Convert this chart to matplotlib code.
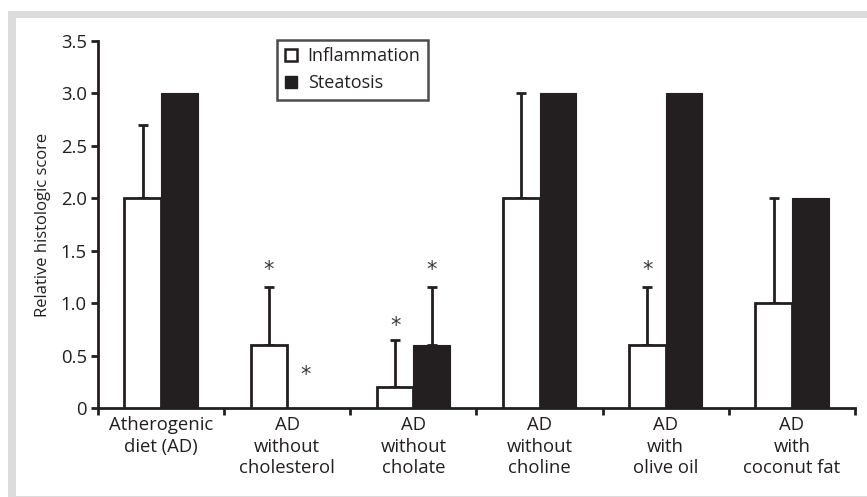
import matplotlib
matplotlib.use('Agg')
import matplotlib.pyplot as plt
from matplotlib.lines import Line2D
from matplotlib.patches import Rectangle
import numpy as np

plt.rcParams['font.family'] = ['Open Sans', 'DejaVu Sans']

groups = ['Atherogenic\ndiet (AD)', 'AD\nwithout\ncholesterol', 'AD\nwithout\ncholate',
          'AD\nwithout\ncholine', 'AD\nwith\nolive oil', 'AD\nwith\ncoconut fat']
inflammation = [2.0, 0.6, 0.2, 2.0, 0.6, 1.0]
inflammation_err = [0.7, 0.55, 0.45, 1.0, 0.55, 1.0]
steatosis = [3.0, 0.0, 0.6, 3.0, 3.0, 2.0]
steatosis_err = [0, 0, 0.55, 0, 0, 0]
# asterisk heights (None = no mark)
inflammation_star = [None, 1.32, 0.78, None, 1.32, None]
steatosis_star = [None, 0.31, 1.32, None, None, None]

dark = '#231f20'
x = np.arange(len(groups))
w = 0.29

fig = plt.figure(figsize=(8.67, 4.97), dpi=100)
# grey frame like the journal figure
fig.patches.append(Rectangle((8/867, 0), 1, (497-11)/497, transform=fig.transFigure,
                             facecolor='#dcdcdc', edgecolor='none', zorder=-2))
fig.patches.append(Rectangle((16/867, 1/497), 1, (497-19)/497, transform=fig.transFigure,
                             facecolor='white', edgecolor='none', zorder=-1))

ax = fig.add_axes([98/867, 1-408/497, 757/867, 367/497])
ax.patch.set_alpha(0)

ax.bar(x - w/2, inflammation, w, color='white', edgecolor=dark, linewidth=2, zorder=3)
ax.bar(x + w/2, steatosis, w, color=dark, edgecolor=dark, linewidth=0.8, zorder=3)

ax.errorbar(x - w/2, inflammation, yerr=[np.zeros(6), inflammation_err], fmt='none',
            ecolor=dark, elinewidth=2, capsize=3.5, capthick=2, zorder=2)
se = np.array(steatosis_err)
m = se > 0
ax.errorbar((x + w/2)[m], np.array(steatosis)[m], yerr=[np.zeros(m.sum()), se[m]], fmt='none',
            ecolor=dark, elinewidth=2, capsize=3.5, capthick=2, zorder=2)

for i in range(len(groups)):
    if inflammation_star[i] is not None:
        ax.text(x[i] - w/2, inflammation_star[i], '*', ha='center', va='center', fontsize=15,
                color='#3a3a3a', family='DejaVu Sans')
    if steatosis_star[i] is not None:
        ax.text(x[i] + w/2, steatosis_star[i], '*', ha='center', va='center', fontsize=15,
                color='#3a3a3a', family='DejaVu Sans')

ax.set_xlim(-0.5, len(groups) - 0.5)
ax.set_ylim(0, 3.5)
ax.set_yticks(np.arange(0, 3.51, 0.5))
ax.set_yticklabels(['0', '0.5', '1.0', '1.5', '2.0', '2.5', '3.0', '3.5'])
ax.set_xticks(np.arange(-0.5, len(groups), 1.0))
ax.set_xticklabels([])
ax.set_xticks(x, minor=True)
ax.set_xticklabels(groups, minor=True, fontsize=13.3, color=dark, linespacing=1.25)
ax.tick_params(axis='x', which='minor', length=0, pad=6)
ax.tick_params(axis='x', which='major', direction='out', length=5, width=2, color=dark)
ax.tick_params(axis='y', direction='out', length=5, width=2, color=dark, labelsize=13.3,
               labelcolor=dark, pad=3)

for s in ['top', 'right']:
    ax.spines[s].set_visible(False)
for s in ['left', 'bottom']:
    ax.spines[s].set_linewidth(2)
    ax.spines[s].set_color(dark)

ax.set_ylabel('Relative histologic score', fontsize=12, color=dark, labelpad=7)

handles = [Line2D([0], [0], marker='s', color='none', markerfacecolor='white', markeredgecolor=dark,
                  markeredgewidth=1.8, markersize=8),
           Line2D([0], [0], marker='s', color='none', markerfacecolor=dark, markeredgecolor=dark,
                  markersize=8)]
leg = ax.legend(handles, ['Inflammation', 'Steatosis'], loc='upper left',
                bbox_to_anchor=((268-98)/757, 1.027), fontsize=13, frameon=True, fancybox=False,
                handlelength=0.8, handletextpad=0.5, borderpad=0.4, labelspacing=0.5)
leg.get_frame().set_edgecolor(dark)
leg.get_frame().set_linewidth(1.8)
for t in leg.get_texts():
    t.set_color(dark)

fig.savefig('out.png', dpi=100)
